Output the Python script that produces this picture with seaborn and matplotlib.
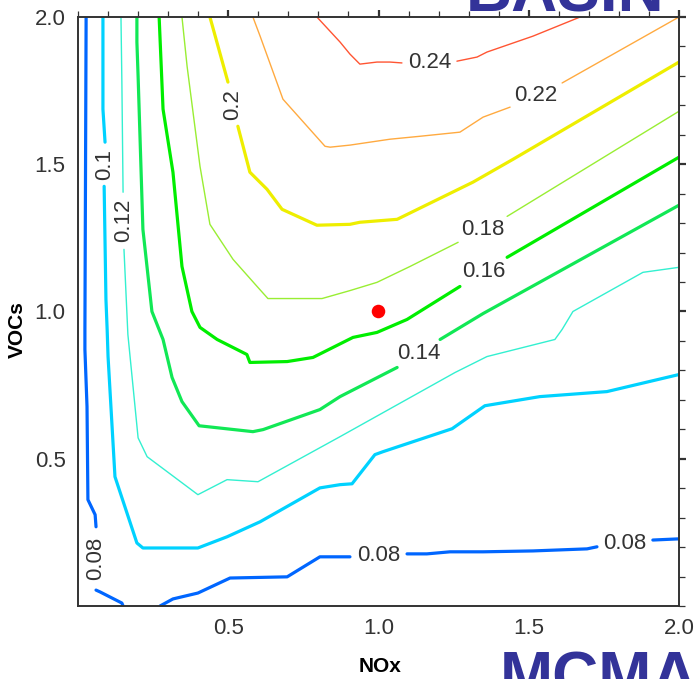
import numpy as np
import pandas as pd
import matplotlib
matplotlib.use("Agg")
import matplotlib.pyplot as plt
import seaborn as sns
from matplotlib.ticker import MultipleLocator, FixedLocator, FixedFormatter

# ---------------- data ----------------
levels = [0.08, 0.10, 0.12, 0.14, 0.16, 0.18, 0.20, 0.22, 0.24]

# each contour level: list of segments (gaps between segments hold the labels)
x_008 = [[0.027, 0.023, 0.023, 0.030, 0.033, 0.057, 0.060],
         [0.060, 0.073, 0.146, 0.150],
         [0.273, 0.316, 0.399, 0.506, 0.696, 0.805, 0.905],
         [1.095, 1.161, 1.238, 1.348, 1.514, 1.694, 1.727],
         [1.913, 2.000]]
y_008 = [[2.000, 0.939, 0.871, 0.677, 0.361, 0.310, 0.269],
         [0.054, 0.048, 0.010, 0.000],
         [0.000, 0.024, 0.044, 0.095, 0.099, 0.167, 0.167],
         [0.177, 0.177, 0.184, 0.184, 0.187, 0.194, 0.201],
         [0.224, 0.228]]
# which gaps between consecutive segments carry a label (the other leaves the plot)
gaps_008 = [True, False, True, True]

x_010 = [[0.083, 0.083, 0.090],
         [0.087, 0.093, 0.097, 0.100, 0.123, 0.196, 0.216, 0.399, 0.496, 0.606,
          0.805, 0.872, 0.912, 0.988, 1.015, 1.245, 1.354, 1.537, 1.760, 2.000]]
y_010 = [[2.000, 1.687, 1.575],
         [1.425, 1.041, 0.939, 0.847, 0.439, 0.214, 0.197, 0.197, 0.235, 0.286,
          0.401, 0.412, 0.415, 0.514, 0.524, 0.602, 0.680, 0.711, 0.728, 0.786]]
gaps_010 = [True]

x_012 = [[0.143, 0.146, 0.150],
         [0.153, 0.166, 0.200, 0.230, 0.399, 0.496, 0.599, 0.872, 1.255, 1.361,
          1.587, 1.611, 1.647, 1.880, 2.000]]
y_012 = [[2.000, 1.779, 1.405],
         [1.211, 0.922, 0.571, 0.507, 0.378, 0.429, 0.422, 0.575, 0.793, 0.847,
          0.905, 0.939, 1.000, 1.133, 1.150]]
gaps_012 = [True]

x_014 = [[0.196, 0.196, 0.200, 0.216, 0.246, 0.283, 0.313, 0.346, 0.403, 0.582,
          0.616, 0.805, 0.872, 1.062],
         [1.205, 1.348, 2.000]]
y_014 = [[2.000, 1.915, 1.799, 1.279, 1.000, 0.905, 0.776, 0.694, 0.612, 0.592,
          0.599, 0.667, 0.711, 0.810],
         [0.905, 0.993, 1.361]]
gaps_014 = [True]

x_016 = [[0.270, 0.283, 0.316, 0.346, 0.379, 0.406, 0.463, 0.562, 0.572, 0.696,
          0.782, 0.915, 0.995, 1.095, 1.271],
         [1.428, 2.000]]
y_016 = [[2.000, 1.687, 1.473, 1.153, 1.000, 0.946, 0.905, 0.854, 0.827, 0.830,
          0.844, 0.912, 0.929, 0.973, 1.085],
         [1.184, 1.524]]
gaps_016 = [True]

x_018 = [[0.346, 0.363, 0.406, 0.439, 0.516, 0.596, 0.632, 0.812, 0.905, 0.995,
          1.105, 1.265],
         [1.428, 2.000]]
y_018 = [[2.000, 1.833, 1.493, 1.296, 1.177, 1.085, 1.044, 1.044, 1.071, 1.099,
          1.153, 1.235],
         [1.323, 1.680]]
gaps_018 = [True]

x_020 = [[0.439, 0.499],
         [0.532, 0.572, 0.629, 0.679, 0.795, 0.905, 0.938, 1.062, 1.314, 1.448, 2.000]]
y_020 = [[2.000, 1.779],
         [1.629, 1.473, 1.415, 1.347, 1.293, 1.296, 1.303, 1.313, 1.439, 1.517, 1.847]]
gaps_020 = [True]

x_022 = [[0.582, 0.606, 0.682, 0.822, 0.839, 0.905, 1.038, 1.138, 1.271, 1.348, 1.438],
         [1.611, 2.000]]
y_022 = [[2.000, 1.935, 1.721, 1.561, 1.558, 1.565, 1.585, 1.595, 1.609, 1.660, 1.694],
         [1.776, 2.000]]
gaps_022 = [True]

x_024 = [[0.795, 0.872, 0.905, 0.938, 0.995, 1.038, 1.078],
         [1.261, 1.328, 1.361, 1.514, 1.671]]
y_024 = [[2.000, 1.915, 1.874, 1.840, 1.847, 1.847, 1.844],
         [1.850, 1.864, 1.881, 1.935, 2.000]]
gaps_024 = [True]

point_x = [1.0]
point_y = [1.0]

x_ticks = [0.5, 1.0, 1.5, 2.0]
y_ticks = [0.5, 1.0, 1.5, 2.0]
x_tick_labels = ["0.5", "1.0", "1.5", "2.0"]
y_tick_labels = ["0.5", "1.0", "1.5", "2.0"]

# ---------------- styles ----------------
level_colors = ["#0066FF", "#00D2FF", "#33F0D0", "#11E855", "#00EE00",
                "#99EE33", "#EEEE00", "#FFAA40", "#FF5533"]
level_widths = [2.3, 2.3, 1.0, 2.3, 2.3, 1.0, 2.3, 1.0, 1.0]

all_x = [x_008, x_010, x_012, x_014, x_016, x_018, x_020, x_022, x_024]
all_y = [y_008, y_010, y_012, y_014, y_016, y_018, y_020, y_022, y_024]
all_gaps = [gaps_008, gaps_010, gaps_012, gaps_014, gaps_016, gaps_018,
            gaps_020, gaps_022, gaps_024]

sns.set_style("white")
plt.rcParams["font.family"] = ["Liberation Sans", "DejaVu Sans"]

fig = plt.figure(figsize=(6.98, 6.79), dpi=100)
ax = fig.add_axes([78 / 698, 73 / 679, 601 / 698, 589 / 679])
ax.set_xlim(0, 2.0)
ax.set_ylim(0, 2.0)

for lev, xs_list, ys_list, gaps, col, lw in zip(levels, all_x, all_y, all_gaps,
                                                level_colors, level_widths):
    for xs, ys in zip(xs_list, ys_list):
        df = pd.DataFrame({"x": xs, "y": ys})
        sns.lineplot(data=df, x="x", y="y", sort=False, estimator=None,
                     color=col, linewidth=lw, ax=ax)
    # labels in the gaps between consecutive segments
    for i in range(len(xs_list) - 1):
        if not gaps[i]:
            continue
        x1, y1 = xs_list[i][-1], ys_list[i][-1]
        x2, y2 = xs_list[i + 1][0], ys_list[i + 1][0]
        p1 = ax.transData.transform((x1, y1))
        p2 = ax.transData.transform((x2, y2))
        dx, dy = p2 - p1
        rot = 90 if abs(dy) > abs(dx) else 0
        ax.text((x1 + x2) / 2, (y1 + y2) / 2, f"{lev:g}", ha="center", va="center",
                rotation=rot, rotation_mode="anchor", fontsize=16, color="#333333")

pts = pd.DataFrame({"x": point_x, "y": point_y})
sns.scatterplot(data=pts, x="x", y="y", s=95, color="#FF0000", edgecolor="none",
                ax=ax, zorder=5)

ax.xaxis.set_major_locator(FixedLocator(x_ticks))
ax.xaxis.set_major_formatter(FixedFormatter(x_tick_labels))
ax.yaxis.set_major_locator(FixedLocator(y_ticks))
ax.yaxis.set_major_formatter(FixedFormatter(y_tick_labels))
ax.xaxis.set_minor_locator(MultipleLocator(0.1))
ax.yaxis.set_minor_locator(MultipleLocator(0.1))
ax.tick_params(which="both", direction="out", top=True, right=True,
               labeltop=False, labelright=False, color="#333333")
ax.tick_params(which="major", length=5, width=1.6, labelsize=16,
               labelcolor="#333333", pad=4)
ax.tick_params(which="minor", length=4, width=0.9)
for sp in ax.spines.values():
    sp.set_color("#333333")
    sp.set_linewidth(1.4)

ax.set_xlabel("NOx", fontsize=15, fontweight="bold", color="black", va="center")
ax.set_ylabel("VOCs", fontsize=15, fontweight="bold", color="black")
ax.xaxis.set_label_coords(0.502, -0.102)
ax.yaxis.set_label_coords(-0.085, 0.469)

# slide titles cut by the image edges
fig.text(466 / 698, (679 - 12) / 679, "BASIN", fontsize=46, fontweight="bold",
         color="#333399", ha="left", va="baseline")
fig.text(500 / 698, (679 - 698) / 679, "MCMA", fontsize=46, fontweight="bold",
         color="#333399", ha="left", va="baseline")

fig.savefig("out.png", dpi=100)
